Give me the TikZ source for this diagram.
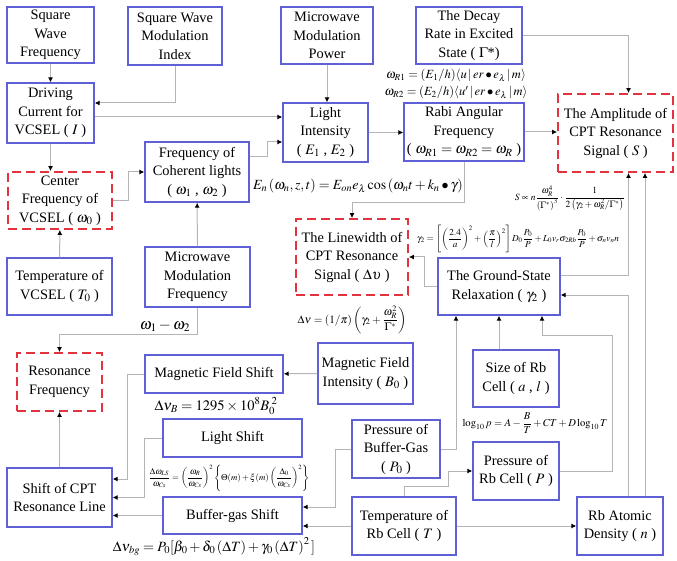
\documentclass[tikz,border=0pt]{standalone}
\usepackage{amsmath}
\usepackage{mathptmx}
\usepackage{fontspec}
\setmainfont{Liberation Serif}
\usetikzlibrary{arrows.meta}

\definecolor{boxblue}{RGB}{96,96,214}
\definecolor{sigred}{RGB}{226,52,62}
\definecolor{wire}{RGB}{180,180,180}

\tikzset{
	factor/.style={draw=boxblue, line width=1.3pt, align=center, inner sep=1pt,
		font=\fontsize{14.4}{18.5}\selectfont},
	keyfactor/.style={factor, draw=sigred, line width=1.8pt, dash pattern=on 9pt off 5pt},
	sz/.style 2 args={minimum width=#1pt, minimum height=#2pt},
	conn/.style={draw=wire, line width=1pt, -{Latex[length=5pt,width=5pt,color=black]}},
	eq/.style={inner sep=0pt, font=\fontsize{12.5}{17}\selectfont, align=center},
}

\begin{document}
\begin{tikzpicture}[x=1pt,y=-1pt]
	\useasboundingbox (0,0) rectangle (677,561);

	% laser and microwave side
	\node[factor,sz={87}{56}] (sqf) at (50.5,35) {Square\\Wave\\Frequency};
	\node[factor,sz={94}{58}] (sqmi) at (175,36) {Square Wave\\Modulation\\Index};
	\node[factor,sz={87}{60}] (drv) at (50.5,113) {Driving\\Current for\\VCSEL ( $I$ )};
	\node[factor,sz={92}{57}] (mwp) at (327,35.5) {Microwave\\Modulation\\Power};
	\node[factor,sz={106}{57}] (decay) at (469,35.5) {The Decay\\Rate in Excited\\State ( $\Gamma$*)};
	\node[factor,sz={85}{59}] (light) at (325.5,132.5) {Light\\Intensity\\( $E_1$ , $E_2$ )};
	\node[factor,sz={120}{58}] (rabi) at (464,132) {Rabi Angular\\Frequency\\( $\omega_{R1}=\omega_{R2}=\omega_R$ )};
	\node[keyfactor,sz={115}{78}] (amp) at (615.5,133) {The Amplitude of\\CPT Resonance\\Signal ( $S$ )};
	\node[factor,sz={104}{60}] (coh) at (197,172) {Frequency of\\Coherent lights\\( $\omega_1$ , $\omega_2$ )};
	\node[keyfactor,sz={104}{57}] (cen) at (60,200.5) {Center\\Frequency of\\VCSEL ( $\omega_0$ )};
	\node[factor,sz={105}{57}] (tvc) at (59.5,286.5) {Temperature of\\VCSEL ( $T_0$ )};
	\node[factor,sz={105}{60}] (mwf) at (197.5,277) {Microwave\\Modulation\\Frequency};

	% linewidth and relaxation
	\node[keyfactor,sz={112}{76}] (lw) at (352,257) {The Linewidth of\\CPT Resonance\\Signal ( $\Delta\upsilon$ )};
	\node[factor,sz={122}{57}] (gs) at (499,286.5) {The Ground-State\\Relaxation ( $\gamma_2$ )};

	% frequency shifts
	\node[keyfactor,sz={85}{58}] (res) at (59.5,382) {Resonance\\Frequency};
	\node[factor,sz={138}{38}] (mfs) at (214,374) {Magnetic Field Shift};
	\node[factor,sz={95}{61}] (mfi) at (365.5,373.5) {Magnetic Field\\Intensity ( $B_0$ )};
	\node[factor,sz={139}{38}] (ls) at (232.5,438) {Light Shift};
	\node[factor,sz={139}{37}] (bgs) at (232.5,515.5) {Buffer-gas Shift};
	\node[factor,sz={105}{59}] (shift) at (59.5,497.5) {Shift of CPT\\Resonance Line};

	% Rb cell
	\node[factor,sz={88}{58}] (pbg) at (396,449) {Pressure of\\Buffer-Gas\\( $P_0$ )};
	\node[factor,sz={104}{58}] (trb) at (404,526) {Temperature of\\Rb Cell ( $T$ )};
	\node[factor,sz={86}{57}] (size) at (516,378.5) {Size of Rb\\Cell ( $a$ , $l$ )};
	\node[factor,sz={86}{58}] (prb) at (516,471) {Pressure of\\Rb Cell ( $P$ )};
	\node[factor,sz={86}{58}] (dens) at (620,526) {Rb Atomic\\Density ( $n$ )};

	% relations
	\node[eq] (frabi) at (456,84) {$\omega_{R1}=\left(E_1/h\right)\!\langle u\,|\,er\bullet e_\lambda\,|\,m\rangle$\\
		$\omega_{R2}=\left(E_2/h\right)\!\langle u'\,|\,er\bullet e_\lambda\,|\,m\rangle$};
	\node[eq,font=\fontsize{14}{16}\selectfont] (fen) at (358,186) {$E_n\left(\omega_n,z,t\right)=E_{on}e_\lambda\cos\left(\omega_n t+k_n\bullet\gamma\right)$};
	\node[eq,font=\fontsize{9.5}{11}\selectfont] (fs) at (570,198) {$S\propto n\dfrac{\omega_R^4}{\left(\Gamma^*\right)^3}\cdot\dfrac{1}{2\left(\gamma_2+\omega_R^2/\Gamma^*\right)}$};
	\node[eq,font=\fontsize{9.2}{11}\selectfont] (fgam) at (518,239) {$\gamma_2=\left[\left(\dfrac{2.4}{a}\right)^2+\left(\dfrac{\pi}{l}\right)^2\right]D_0\dfrac{P_0}{P}+L_0v_r\sigma_{2Rb}\dfrac{P_0}{P}+\sigma_nv_nn$};
	\node[eq,font=\fontsize{11.2}{13}\selectfont] (fdv) at (352,320) {$\Delta\nu=\left(1/\pi\right)\left(\gamma_2+\dfrac{\omega_R^2}{\Gamma^*}\right)$};
	\node[eq,font=\fontsize{14.5}{16}\selectfont] (fmag) at (216,406) {$\Delta\nu_B=1295\times10^8B_0^{\;2}$};
	\node[eq,font=\fontsize{8.8}{10}\selectfont] (fls) at (229,478) {$\dfrac{\Delta\omega_{LS}}{\omega_{Cs}}=\left(\dfrac{\omega_{R}}{\omega_{Cs}}\right)^2\left\{\Theta(m)+\xi(m)\left(\dfrac{\Delta_0}{\omega_{Cs}}\right)^2\right\}$};
	\node[eq,font=\fontsize{14.2}{16}\selectfont] (fbg) at (214,547) {$\Delta\nu_{bg}=P_0[\beta_0+\delta_0\left(\Delta T\right)+\gamma_0\left(\Delta T\right)^2\,]$};
	\node[eq,font=\fontsize{10.6}{12}\selectfont] (flog) at (535,423) {$\log_{10}p=A-\dfrac{B}{T}+CT+D\log_{10}T$};
	\node[eq,font=\fontsize{15.5}{17}\selectfont] (dw) at (165,326) {$\omega_1-\omega_2$};

	% connectors
	\draw[conn] (sqf) -- (drv);
	\draw[conn] (sqmi.south) |- ([yshift=10pt]drv.east);
	\draw[conn] ([yshift=-4pt]drv.east) -- ([yshift=15.5pt]light.west);
	\draw[conn] (drv.south) -- (drv.south |- cen.north);
	\draw[conn] (cen.east) -- ++(16,0) |- (coh.west);
	\draw[conn] ([yshift=15pt]coh.east) -- ++(18,0) |- ([yshift=-9.5pt]light.west);
	\draw[conn] (tvc) -- (cen);
	\draw[conn] (mwf) -- (coh);
	\draw[conn] (mwf.south) -- ++(0,27) -| (res.north);
	\draw[conn] (mwp.south) -- (mwp.south |- light.north);
	\draw[conn] (light.east) -- (light.east -| rabi.west);
	\draw[conn] (rabi.east) -- (rabi.east -| amp.west);
	\draw[conn] (decay.east) -| ([xshift=13pt]amp.north);
	\draw[conn] (rabi.south) -- ++(0,41) -| (lw.north);
	\draw[conn] (gs.west) -- ++(-13,0) |- (lw.east);
	\draw[conn] ([yshift=11pt]gs.east) -| ([xshift=13pt]amp.south);
	\draw[conn] ([xshift=8pt]dens.north) |- ([yshift=-8.5pt]gs.east);
	\draw[conn] ([xshift=25pt]dens.north) -- ([xshift=25pt]dens.north |- amp.south);
	\draw[conn] (prb.east) -- ++(53,0) -- ++(0,-136) -| ([xshift=43pt]gs.south);
	\draw[conn] (gs.south |- size.north) -- (gs.south);
	\draw[conn] (pbg.east) -| ([xshift=-43pt]gs.south);
	\draw[conn] (pbg.west) -- ++(-16,0) |- ([yshift=8.5pt]bgs.east);
	\draw[conn] (trb.west) -- (trb.west -| bgs.east);
	\draw[conn] (trb) -- (dens);
	\draw[conn] (trb.north) -- ++(0,-10) -- ++(44,0) |- (prb.west);
	\draw[conn] (mfi) -- (mfs);
	\draw[conn] (mfs.west) -- ++(-17,0) |- ([yshift=18.5pt]shift.east);
	\draw[conn] (ls.west) -- ++(-18,0) |- (shift.east);
	\draw[conn] (bgs.west) -- (bgs.west -| shift.east);
	\draw[conn] (shift) -- (res);
\end{tikzpicture}
\end{document}
